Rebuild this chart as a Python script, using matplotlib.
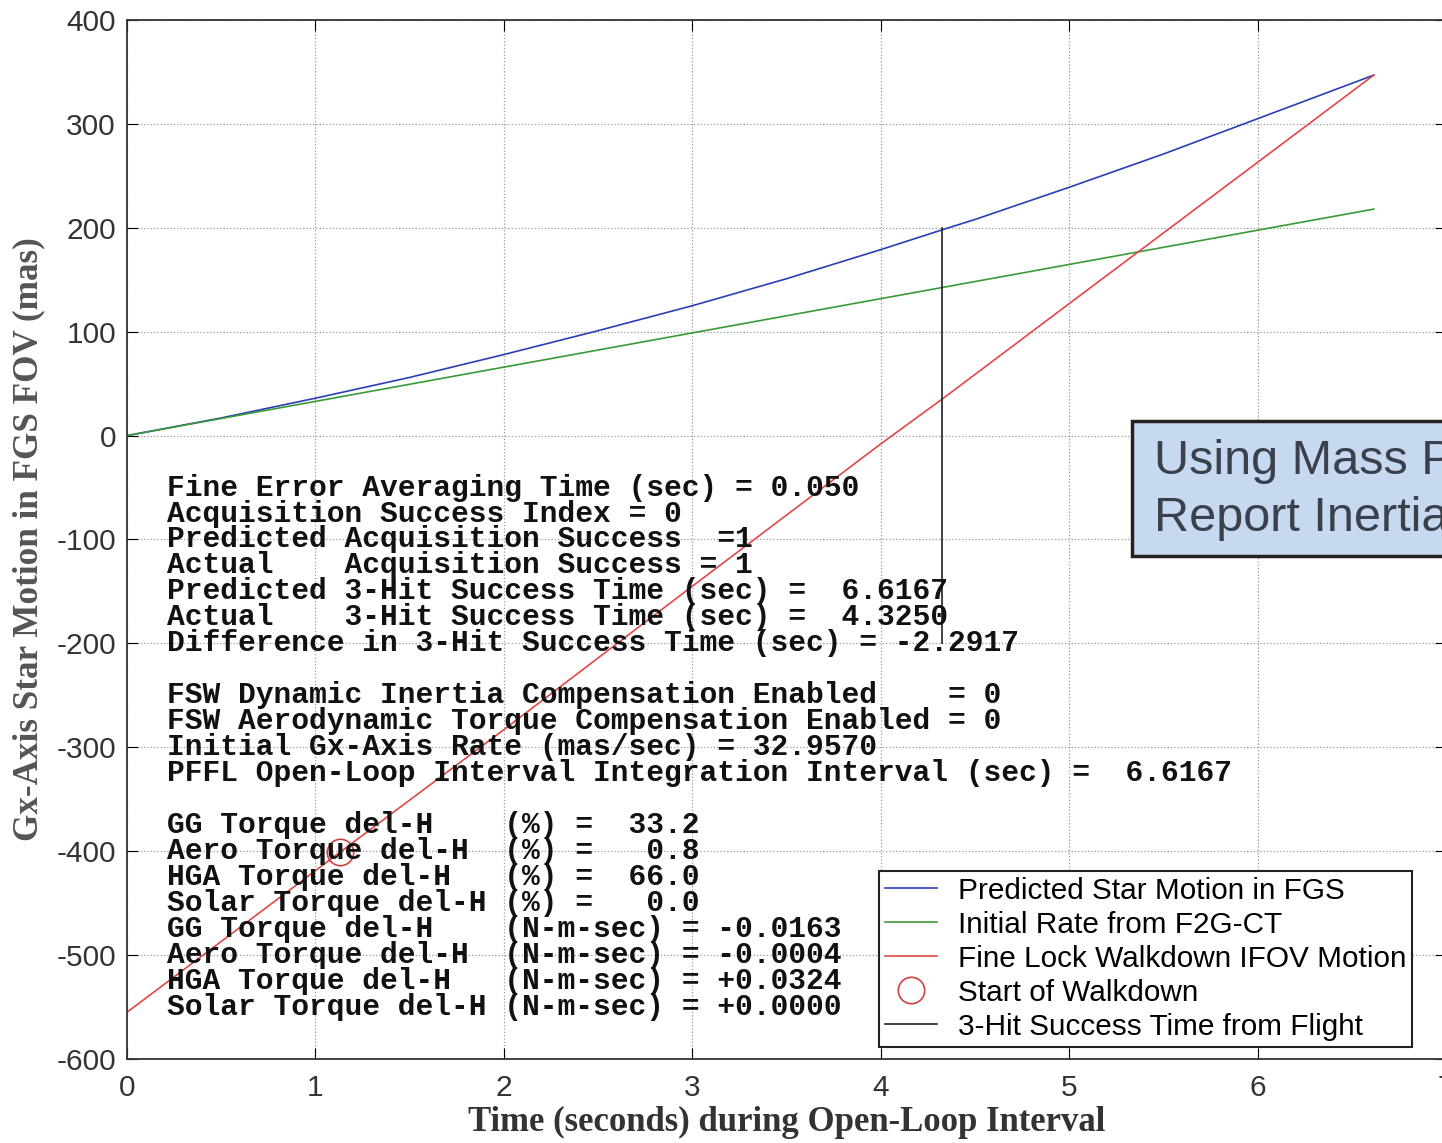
import matplotlib
matplotlib.use("Agg")
import matplotlib.pyplot as plt
from matplotlib.patches import Rectangle

plt.rcParams["axes.unicode_minus"] = False

# predicted star motion in FGS
t_pred = [0, 0.5, 1, 1.5, 2, 2.5, 3, 3.5, 4, 4.325, 4.5, 5, 5.5, 6, 6.5, 6.6167]
y_pred = [0, 17, 36, 56, 78, 101, 125, 151, 179, 198, 208, 239, 271, 305, 339, 347]

# initial rate from F2G-CT
t_rate = [0, 6.6167]
y_rate = [0, 218]

# fine lock walkdown IFOV motion
t_walk = [0, 1.13, 2, 3, 4, 4.325, 5, 6, 6.6167]
y_walk = [-555, -401, -283, -145, -8, 35, 127, 263, 347]

walk_start = (1.13, -401)
hit_time = 4.325
hit_span = [-200, 200]

block1 = [
    "Fine Error Averaging Time (sec) = 0.050",
    "Acquisition Success Index = 0",
    "Predicted Acquisition Success  =1",
    "Actual    Acquisition Success = 1",
    "Predicted 3-Hit Success Time (sec) =  6.6167",
    "Actual    3-Hit Success Time (sec) =  4.3250",
    "Difference in 3-Hit Success Time (sec) = -2.2917",
]
block2 = [
    "FSW Dynamic Inertia Compensation Enabled    = 0",
    "FSW Aerodynamic Torque Compensation Enabled = 0",
    "Initial Gx-Axis Rate (mas/sec) = 32.9570",
    "PFFL Open-Loop Interval Integration Interval (sec) =  6.6167",
]
block3 = [
    "GG Torque del-H    (%) =  33.2",
    "Aero Torque del-H  (%) =   0.8",
    "HGA Torque del-H   (%) =  66.0",
    "Solar Torque del-H (%) =   0.0",
    "GG Torque del-H    (N-m-sec) = -0.0163",
    "Aero Torque del-H  (N-m-sec) = -0.0004",
    "HGA Torque del-H   (N-m-sec) = +0.0324",
    "Solar Torque del-H (N-m-sec) = +0.0000",
]
block_tops = [-50, -250, -375]

fig = plt.figure(figsize=(14.42, 11.43), dpi=100)
ax = fig.add_axes([0.0881, 0.0735, 0.9147, 0.909])

ax.plot(t_pred, y_pred, color="#2b3fb5", lw=1.2, label="Predicted Star Motion in FGS")
ax.plot(t_rate, y_rate, color="#3a9a3a", lw=1.2, label="Initial Rate from F2G-CT")
ax.plot(t_walk, y_walk, color="#e04848", lw=1.2, label="Fine Lock Walkdown IFOV Motion")
ax.plot([walk_start[0]], [walk_start[1]], "o", mfc="none", mec="#d04040", ms=19, mew=1.2,
        label="Start of Walkdown")
ax.plot([hit_time, hit_time], hit_span, color="#222222", lw=1.2, label="3-Hit Success Time from Flight")

ax.set_xlim(0, 7)
ax.set_ylim(-600, 400)
ax.set_xticks(range(0, 8))
ax.set_yticks(range(-600, 401, 100))
ax.grid(True, linestyle=":", color="#999999", lw=0.9)
ax.tick_params(direction="in", top=True, right=True, length=8, labelsize=21.5,
               labelcolor="#333333")
ax.tick_params(axis="x", pad=11)
ax.tick_params(axis="y", pad=8)
for lab in ax.get_xticklabels() + ax.get_yticklabels():
    lab.set_family("Liberation Sans")
for sp in ax.spines.values():
    sp.set_color("#333333")
    sp.set_linewidth(1.3)

ax.set_xlabel("Time (seconds) during Open-Loop Interval", family="Liberation Serif",
              fontweight="bold", fontsize=25, color="#333333", labelpad=3)
ax.set_ylabel("Gx-Axis Star Motion in FGS FOV (mas)", family="Liberation Serif",
              fontweight="bold", fontsize=25.3, color="#555555", labelpad=8)

for top, block in zip(block_tops, [block1, block2, block3]):
    for i, line in enumerate(block):
        ax.text(0.212, top - 25 * i, line, family="Liberation Mono", fontweight="bold",
                fontsize=21.3, va="center", ha="left", color="#111111")

ax.add_patch(Rectangle((5.334, -116), 3, 130, facecolor="#c6d9f1", edgecolor="#222222",
                       lw=2.5, zorder=5))
ax.text(5.45, -25, "Using Mass Properties", family="Liberation Sans", fontsize=35,
        color="#3a404c", va="center", zorder=6)
ax.text(5.45, -80, "Report Inertias", family="Liberation Sans", fontsize=35,
        color="#3a404c", va="center", zorder=6)

leg = ax.legend(loc="upper left", bbox_to_anchor=(0.570, 0.181),
                prop={"family": "Liberation Sans", "size": 21.4}, frameon=True, fancybox=False,
                edgecolor="#222222", framealpha=1, handlelength=1.75, labelspacing=0.2,
                borderpad=0.2, handletextpad=0.7, borderaxespad=0)
leg.get_frame().set_linewidth(1.5)
leg.set_zorder(7)

fig.savefig("out.png", dpi=100)
